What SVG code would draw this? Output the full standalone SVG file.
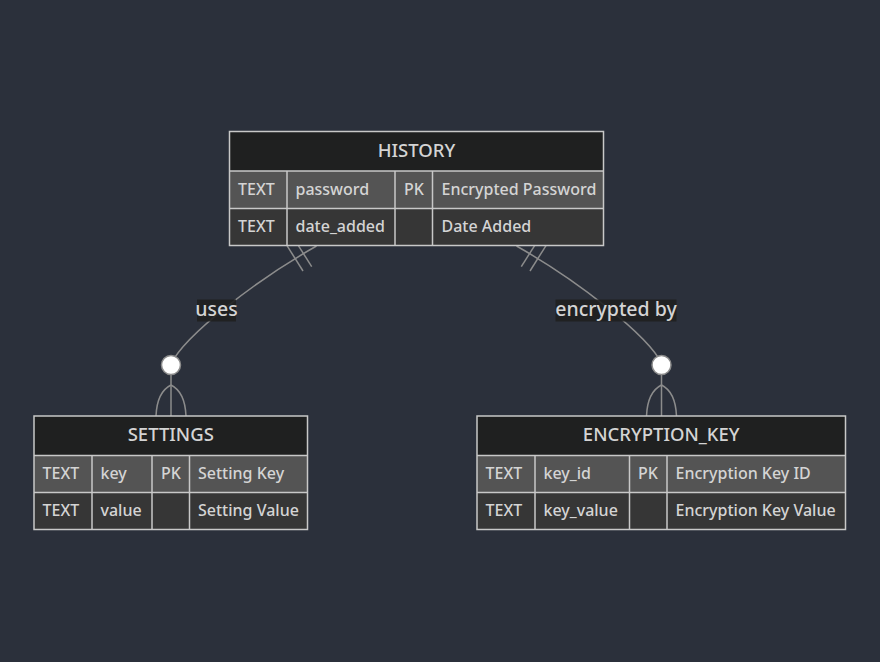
<svg xmlns="http://www.w3.org/2000/svg" width="880" height="662" viewBox="0 0 880 662">
<style>
.bg{fill:#2b303b}
.hdr{fill:#1f2020;stroke:none}
.odd{fill:#545454;stroke:none}
.even{fill:#363636;stroke:none}
.grid{fill:none;stroke:#c8c8c8;stroke-width:1.5}
.title{font-family:"Noto Sans","Open Sans",sans-serif;font-size:18.5px;font-weight:500;fill:#d4d4d4;text-anchor:middle}
.attr{font-family:"Noto Sans","Open Sans",sans-serif;font-size:16px;font-weight:500;fill:#d4d4d4}
.rel{fill:none;stroke:#8c8c8c;stroke-width:1.5}
.lblbg{fill:#1f2020;opacity:0.9}
.lbl{font-family:"Noto Sans","Open Sans",sans-serif;font-size:19.5px;font-weight:500;fill:#d4d4d4;text-anchor:middle}
.zero{fill:#ffffff;stroke:#8c8c8c;stroke-width:1.5}
</style>
<rect class="bg" x="0" y="0" width="880" height="662"/>

<g id="connectors">
  <path class="rel" d="M316.5,246 C256.5,280 185,335 171,364"/>
  <path class="rel" d="M287,245.6 L303,271"/>
  <path class="rel" d="M295.7,241.3 L311.7,266.7"/>
  <path class="rel" d="M171,374 L171,416"/>
  <path class="rel" d="M171,385 Q157,392 156,416"/>
  <path class="rel" d="M171,385 Q185,392 186,416"/>
  <circle class="zero" cx="171" cy="365" r="9.5"/>

  <path class="rel" d="M516.5,246 C576.5,280 648,335 662,364"/>
  <path class="rel" d="M546,245.6 L530,271"/>
  <path class="rel" d="M537.3,241.3 L521.3,266.7"/>
  <path class="rel" d="M661.5,374 L661.5,416"/>
  <path class="rel" d="M661.5,385 Q647.5,392 646.5,416"/>
  <path class="rel" d="M661.5,385 Q675.5,392 676.5,416"/>
  <circle class="zero" cx="661.5" cy="365" r="9.5"/>

  <rect class="lblbg" x="197" y="299.5" width="39" height="22"/>
  <text class="lbl" x="216.5" y="316">uses</text>
  <rect class="lblbg" x="555.5" y="299.5" width="121" height="22"/>
  <text class="lbl" x="616" y="316">encrypted by</text>
</g>

<g id="HISTORY">
  <rect class="hdr" x="229.5" y="131.5" width="374" height="39.5"/>
  <rect class="odd" x="229.5" y="171" width="374" height="37.5"/>
  <rect class="even" x="229.5" y="208.5" width="374" height="37"/>
  <rect class="grid" x="229.5" y="131.5" width="374" height="114"/>
  <path class="grid" d="M229.5,171 H603.5 M229.5,208.5 H603.5 M287,171 V245.5 M395,171 V245.5 M432.5,171 V245.5"/>
  <text class="title" x="416.5" y="156.5">HISTORY</text>
  <text class="attr" x="238" y="194.5">TEXT</text>
  <text class="attr" x="295.5" y="194.5">password</text>
  <text class="attr" x="404" y="194.5">PK</text>
  <text class="attr" x="441.5" y="194.5">Encrypted Password</text>
  <text class="attr" x="238" y="231.5">TEXT</text>
  <text class="attr" x="295.5" y="231.5">date_added</text>
  <text class="attr" x="441.5" y="231.5">Date Added</text>
</g>

<g id="SETTINGS">
  <rect class="hdr" x="34" y="416" width="273.5" height="39.5"/>
  <rect class="odd" x="34" y="455.5" width="273.5" height="37"/>
  <rect class="even" x="34" y="492.5" width="273.5" height="37"/>
  <rect class="grid" x="34" y="416" width="273.5" height="113.5"/>
  <path class="grid" d="M34,455.5 H307.5 M34,492.5 H307.5 M92,455.5 V529.5 M152,455.5 V529.5 M189.5,455.5 V529.5"/>
  <text class="title" x="170.75" y="441">SETTINGS</text>
  <text class="attr" x="42.5" y="479">TEXT</text>
  <text class="attr" x="100.5" y="479">key</text>
  <text class="attr" x="161" y="479">PK</text>
  <text class="attr" x="198" y="479">Setting Key</text>
  <text class="attr" x="42.5" y="516">TEXT</text>
  <text class="attr" x="100.5" y="516">value</text>
  <text class="attr" x="198" y="516">Setting Value</text>
</g>

<g id="ENCRYPTION_KEY">
  <rect class="hdr" x="477" y="416" width="368.5" height="39.5"/>
  <rect class="odd" x="477" y="455.5" width="368.5" height="37"/>
  <rect class="even" x="477" y="492.5" width="368.5" height="37"/>
  <rect class="grid" x="477" y="416" width="368.5" height="113.5"/>
  <path class="grid" d="M477,455.5 H845.5 M477,492.5 H845.5 M535,455.5 V529.5 M629.5,455.5 V529.5 M667,455.5 V529.5"/>
  <text class="title" x="661.25" y="441">ENCRYPTION_KEY</text>
  <text class="attr" x="485.5" y="479">TEXT</text>
  <text class="attr" x="543.5" y="479">key_id</text>
  <text class="attr" x="638" y="479">PK</text>
  <text class="attr" x="675.5" y="479">Encryption Key ID</text>
  <text class="attr" x="485.5" y="516">TEXT</text>
  <text class="attr" x="543.5" y="516">key_value</text>
  <text class="attr" x="675.5" y="516">Encryption Key Value</text>
</g>
</svg>
